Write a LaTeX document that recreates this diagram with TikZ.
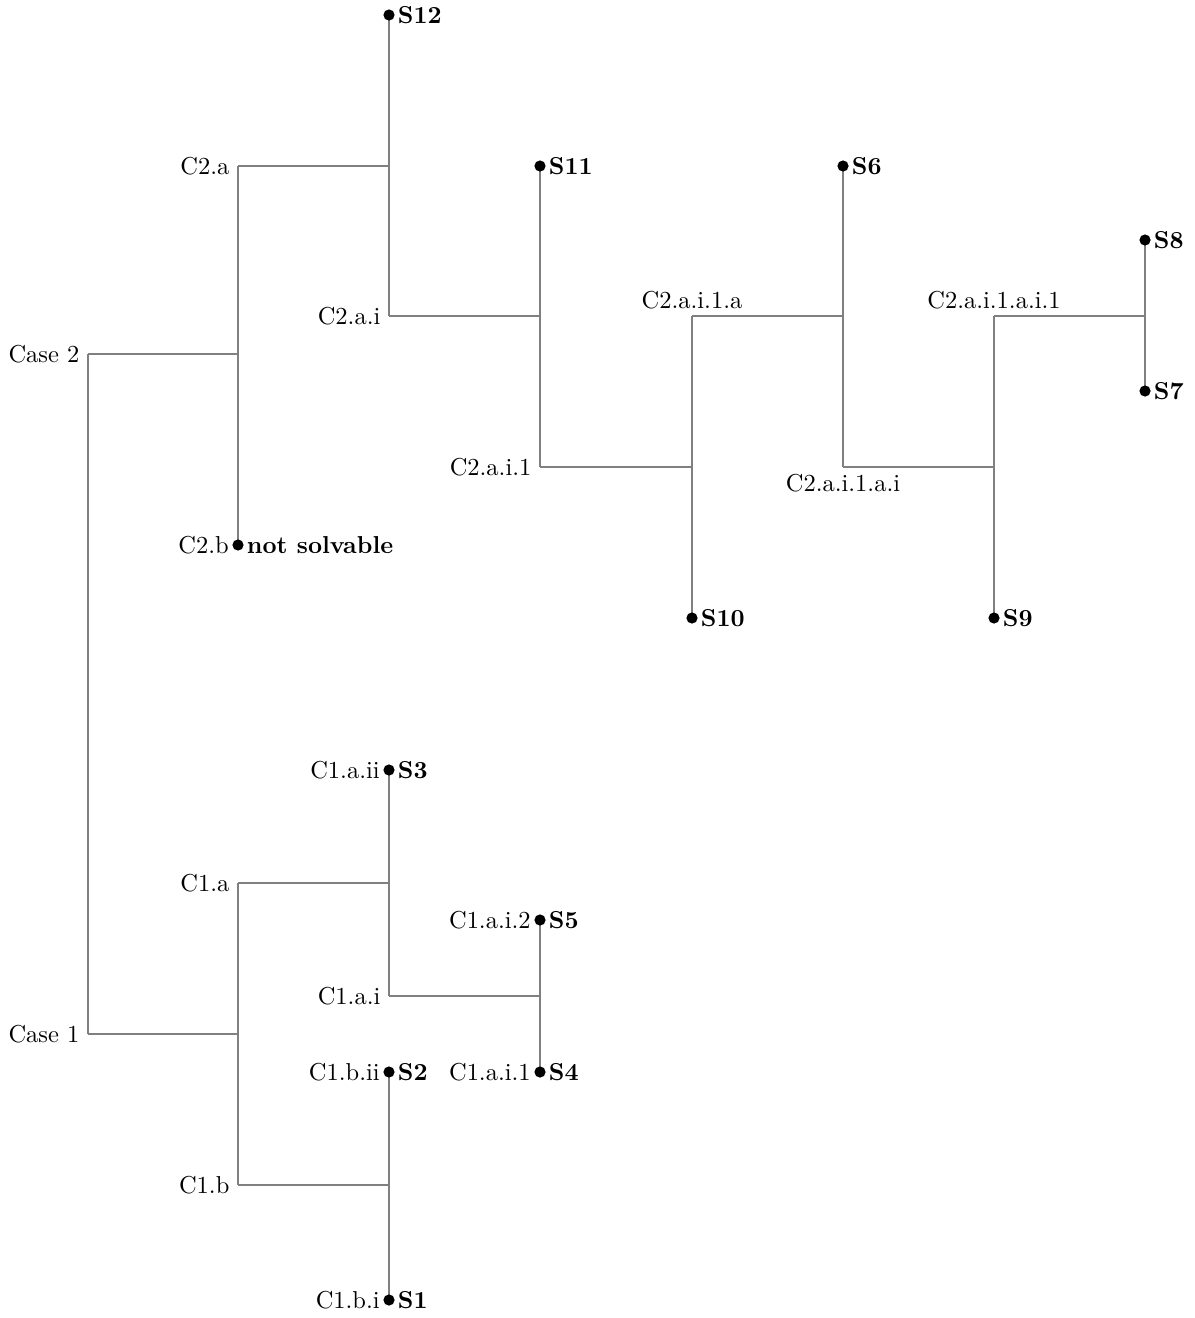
\documentclass[tikz,border=0pt]{standalone}
\begin{document}
\begin{tikzpicture}[x=0.429pt,y=-0.429pt,
  every node/.style={font=\fontsize{10.5}{12.6}\selectfont},
  branch/.style={draw=gray,line width=0.9pt},
  leaf/.style={circle,fill=black,inner sep=0pt,minimum size=4.8pt},
  lname/.style={anchor=east,inner sep=1.2pt},
  sname/.style={anchor=west,inner sep=1pt,font=\fontsize{10.5}{12.6}\selectfont\bfseries},
  iname/.style={anchor=east,inner sep=3.5pt}]
\useasboundingbox (0,0) rectangle (1195,1318);
% internal nodes
\coordinate (case2) at (88,354);
\coordinate (case1) at (88,1034);
\coordinate (c2a) at (238,166);
\coordinate (c2ai) at (389,316);
\coordinate (c2ai1) at (540,467);
\coordinate (c2ai1a) at (692,316);
\coordinate (c2ai1ai) at (843,467);
\coordinate (c2ai1ai1) at (994,316);
\coordinate (c1a) at (238,883);
\coordinate (c1ai) at (389,996);
\coordinate (c1b) at (238,1185);
% leaves
\coordinate (s12) at (389,15);
\coordinate (s11) at (540,166);
\coordinate (s6) at (843,166);
\coordinate (s8) at (1145,240);
\coordinate (s7) at (1145,391);
\coordinate (s9) at (994,618);
\coordinate (s10) at (692,618);
\coordinate (c2b) at (238,545);
\coordinate (s3) at (389,770);
\coordinate (s5) at (540,920);
\coordinate (s4) at (540,1072);
\coordinate (s2) at (389,1072);
\coordinate (s1) at (389,1300);
% branches
\draw[branch] (case2) -- (case1);
\draw[branch] (case2) -| (c2a);
\draw[branch] (case2) -| (c2b);
\draw[branch] (c2a) -| (s12);
\draw[branch] (c2a) -| (c2ai);
\draw[branch] (c2ai) -| (s11);
\draw[branch] (c2ai) -| (c2ai1);
\draw[branch] (c2ai1) -| (c2ai1a);
\draw[branch] (c2ai1) -| (s10);
\draw[branch] (c2ai1a) -| (s6);
\draw[branch] (c2ai1a) -| (c2ai1ai);
\draw[branch] (c2ai1ai) -| (c2ai1ai1);
\draw[branch] (c2ai1ai) -| (s9);
\draw[branch] (c2ai1ai1) -| (s8);
\draw[branch] (c2ai1ai1) -| (s7);
\draw[branch] (case1) -| (c1a);
\draw[branch] (case1) -| (c1b);
\draw[branch] (c1a) -| (s3);
\draw[branch] (c1a) -| (c1ai);
\draw[branch] (c1ai) -| (s5);
\draw[branch] (c1ai) -| (s4);
\draw[branch] (c1b) -| (s2);
\draw[branch] (c1b) -| (s1);
% internal labels
\node[iname] (lcase2) at (case2) {Case 2};
\node[iname] (lcase1) at (case1) {Case 1};
\node[iname] (lc2a) at (c2a) {C2.a};
\node[iname] (lc2ai) at (c2ai) {C2.a.i};
\node[iname] (lc2ai1) at (c2ai1) {C2.a.i.1};
\node[anchor=south,inner sep=3pt] (lc2ai1a) at (c2ai1a) {C2.a.i.1.a};
\node[anchor=north,inner sep=3pt] (lc2ai1ai) at (c2ai1ai) {C2.a.i.1.a.i};
\node[anchor=south,inner sep=3pt] (lc2ai1ai1) at (c2ai1ai1) {C2.a.i.1.a.i.1};
\node[iname] (lc1a) at (c1a) {C1.a};
\node[iname] (lc1ai) at (c1ai) {C1.a.i};
\node[iname] (lc1b) at (c1b) {C1.b};
% leaf dots and labels
\foreach \n in {s12,s11,s6,s8,s7,s9,s10,c2b,s3,s5,s4,s2,s1}
  \node[leaf] (d\n) at (\n) {};
\node[sname] (ts12) at (ds12.east) {S12};
\node[sname] (ts11) at (ds11.east) {S11};
\node[sname] (ts6) at (ds6.east) {S6};
\node[sname] (ts8) at (ds8.east) {S8};
\node[sname] (ts7) at (ds7.east) {S7};
\node[sname] (ts9) at (ds9.east) {S9};
\node[sname] (ts10) at (ds10.east) {S10};
\node[sname] (tc2b) at (dc2b.east) {not solvable};
\node[lname] (nc2b) at (dc2b.west) {C2.b};
\node[sname] (ts3) at (ds3.east) {S3};
\node[lname] (ns3) at (ds3.west) {C1.a.ii};
\node[sname] (ts5) at (ds5.east) {S5};
\node[lname] (ns5) at (ds5.west) {C1.a.i.2};
\node[sname] (ts4) at (ds4.east) {S4};
\node[lname] (ns4) at (ds4.west) {C1.a.i.1};
\node[sname] (ts2) at (ds2.east) {S2};
\node[lname] (ns2) at (ds2.west) {C1.b.ii};
\node[sname] (ts1) at (ds1.east) {S1};
\node[lname] (ns1) at (ds1.west) {C1.b.i};
\end{tikzpicture}
\end{document}
